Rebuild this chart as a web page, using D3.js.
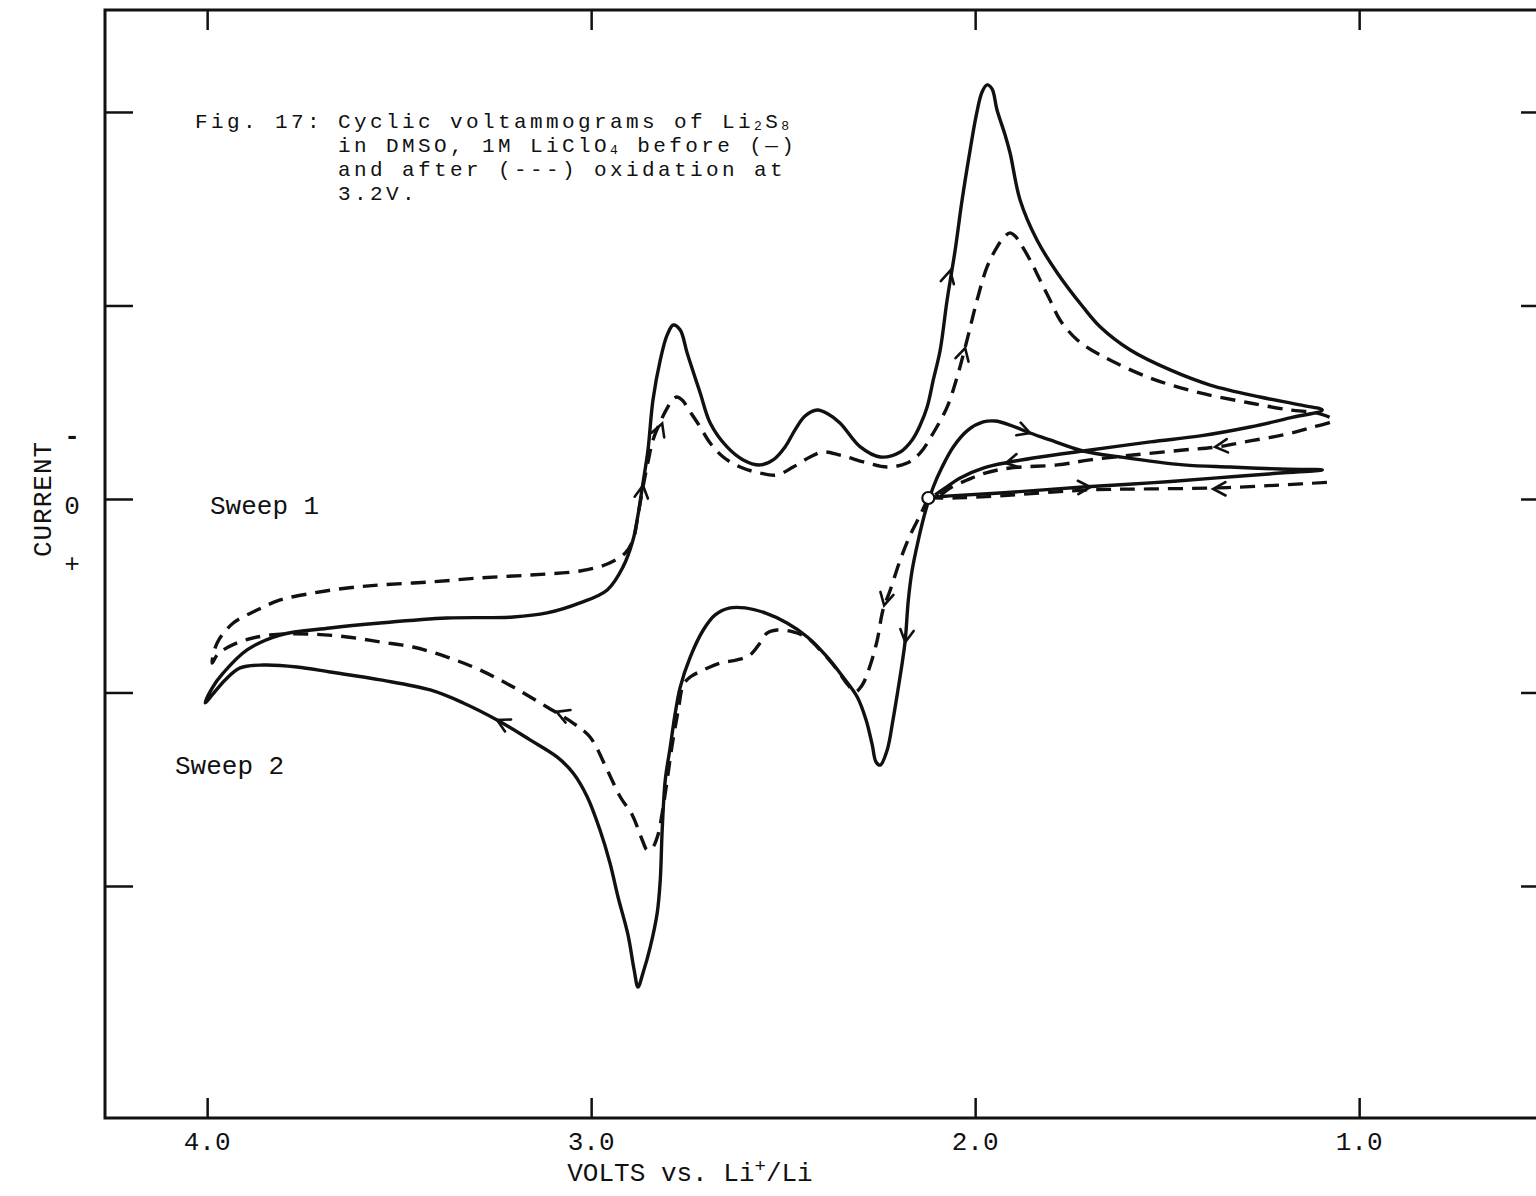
<!DOCTYPE html>
<html>
<head>
<meta charset="utf-8">
<script src="https://cdn.jsdelivr.net/npm/d3@7"></script>
<style>
  html, body { margin: 0; padding: 0; background: #fff; }
  svg { display: block; }
  text { font-family: "Liberation Mono", "DejaVu Sans Mono", monospace; fill: #111; }
</style>
</head>
<body>
<svg id="chart" width="1536" height="1196"></svg>
<script>
// ---------------- DATA (volts vs Li+/Li, current in tick units; up = "-" anodic) ----------------
const xTickValues = [4.0, 3.0, 2.0, 1.0];
const xTickLabels = ["4.0", "3.0", "2.0", "1.0"];
const yTickValues = [2, 1, 0, -1, -2];
const ySignLabels = [["-", 0.33], ["0", -0.03], ["+", -0.33]];

// Before oxidation (solid)
const solidCurve = [
  [2.112,0.010],[2.065,0.016],[1.935,0.031],[1.719,0.062],[1.544,0.083],[1.370,0.109],[1.206,0.134],[1.096,0.150],
  [1.206,0.155],[1.336,0.165],[1.458,0.176],[1.622,0.217],[1.719,0.248],[1.805,0.305],[1.857,0.341],[1.909,0.382],
  [1.948,0.403],[1.979,0.398],[2.018,0.357],[2.057,0.269],[2.086,0.165],[2.109,0.062],[2.130,-0.067],[2.148,-0.212],
  [2.164,-0.367],[2.174,-0.522],[2.182,-0.729],[2.190,-0.848],[2.201,-0.987],[2.214,-1.142],[2.229,-1.297],[2.247,-1.375],
  [2.258,-1.359],[2.268,-1.271],[2.284,-1.142],[2.307,-1.023],[2.344,-0.920],[2.385,-0.817],[2.437,-0.713],[2.490,-0.641],
  [2.547,-0.589],[2.599,-0.563],[2.638,-0.563],[2.677,-0.599],[2.708,-0.677],[2.742,-0.817],[2.768,-0.972],[2.781,-1.106],
  [2.794,-1.282],[2.807,-1.452],[2.815,-1.711],[2.820,-1.969],[2.828,-2.140],[2.846,-2.315],[2.865,-2.450],[2.878,-2.522],
  [2.888,-2.434],[2.904,-2.253],[2.930,-2.057],[2.951,-1.881],[2.977,-1.711],[3.010,-1.540],[3.047,-1.416],[3.089,-1.333],
  [3.159,-1.245],[3.245,-1.142],[3.333,-1.054],[3.419,-0.987],[3.549,-0.935],[3.680,-0.894],[3.766,-0.868],[3.854,-0.858],
  [3.914,-0.873],[3.953,-0.935],[3.987,-1.013],[4.005,-1.054],
  [3.987,-0.977],[3.958,-0.899],[3.896,-0.780],[3.810,-0.703],[3.680,-0.667],[3.549,-0.641],[3.375,-0.615],[3.203,-0.610],
  [3.115,-0.589],[3.029,-0.537],[2.958,-0.470],[2.917,-0.351],[2.891,-0.212],[2.878,-0.083],[2.865,0.083],[2.852,0.253],
  [2.839,0.512],[2.820,0.718],[2.802,0.848],[2.786,0.899],[2.768,0.873],[2.750,0.755],[2.716,0.548],[2.690,0.393],
  [2.646,0.269],[2.604,0.202],[2.560,0.176],[2.526,0.202],[2.495,0.269],[2.469,0.357],[2.443,0.429],[2.411,0.460],
  [2.383,0.439],[2.352,0.393],[2.299,0.269],[2.247,0.217],[2.195,0.243],[2.164,0.305],[2.143,0.382],[2.125,0.475],
  [2.109,0.615],[2.091,0.770],[2.073,1.028],[2.052,1.287],[2.034,1.545],[2.013,1.804],[1.997,1.984],[1.982,2.103],
  [1.969,2.140],[1.956,2.119],[1.943,2.010],[1.922,1.881],[1.909,1.788],[1.883,1.545],[1.839,1.338],[1.786,1.168],
  [1.719,0.992],[1.674,0.889],[1.596,0.770],[1.492,0.667],[1.388,0.589],[1.258,0.527],[1.154,0.486],[1.096,0.460],
  [1.180,0.419],[1.284,0.372],[1.414,0.326],[1.544,0.295],[1.719,0.248],[1.831,0.217],[1.909,0.191],[1.979,0.160],
  [2.039,0.109],[2.078,0.057],[2.104,0.021]
];

// After oxidation at 3.2 V (dashed)
const dashedCurve = [
  [2.122,0.005],[2.143,-0.083],[2.169,-0.186],[2.195,-0.315],[2.221,-0.470],[2.240,-0.574],[2.255,-0.729],[2.273,-0.858],
  [2.294,-0.961],[2.313,-0.997],[2.331,-0.961],[2.365,-0.868],[2.404,-0.780],[2.437,-0.718],[2.474,-0.687],[2.516,-0.677],
  [2.542,-0.693],[2.560,-0.744],[2.586,-0.806],[2.620,-0.832],[2.664,-0.848],[2.708,-0.884],[2.742,-0.920],[2.760,-0.961],
  [2.773,-1.090],[2.789,-1.271],[2.802,-1.452],[2.815,-1.623],[2.826,-1.736],[2.841,-1.804],[2.854,-1.814],[2.867,-1.762],
  [2.893,-1.633],[2.924,-1.540],[2.958,-1.401],[3.003,-1.230],[3.047,-1.158],[3.115,-1.075],[3.203,-0.972],[3.289,-0.884],
  [3.375,-0.817],[3.464,-0.765],[3.549,-0.739],[3.635,-0.713],[3.732,-0.698],[3.836,-0.703],[3.901,-0.729],[3.945,-0.765],
  [3.974,-0.806],[3.987,-0.848],
  [3.974,-0.744],[3.932,-0.641],[3.870,-0.574],[3.810,-0.522],[3.724,-0.486],[3.635,-0.460],[3.549,-0.444],[3.419,-0.429],
  [3.289,-0.408],[3.159,-0.393],[3.029,-0.372],[2.958,-0.336],[2.911,-0.279],[2.891,-0.212],[2.878,-0.083],[2.865,0.062],
  [2.852,0.191],[2.839,0.305],[2.820,0.398],[2.802,0.470],[2.786,0.517],[2.776,0.527],[2.763,0.512],[2.742,0.450],
  [2.716,0.372],[2.690,0.289],[2.656,0.217],[2.612,0.165],[2.560,0.134],[2.516,0.124],[2.474,0.165],[2.430,0.217],
  [2.396,0.243],[2.352,0.227],[2.281,0.186],[2.229,0.165],[2.177,0.186],[2.143,0.238],[2.109,0.341],[2.073,0.475],
  [2.047,0.630],[2.021,0.822],[1.995,1.028],[1.969,1.199],[1.943,1.302],[1.922,1.359],[1.909,1.375],[1.896,1.359],
  [1.883,1.323],[1.857,1.235],[1.831,1.132],[1.805,1.028],[1.779,0.925],[1.734,0.822],[1.674,0.744],[1.544,0.625],
  [1.414,0.548],[1.284,0.496],[1.180,0.460],[1.109,0.444],[1.068,0.408],
  [1.128,0.367],[1.198,0.331],[1.284,0.300],[1.370,0.269],[1.458,0.253],[1.589,0.227],[1.701,0.202],[1.786,0.176],
  [1.909,0.160],[1.974,0.134],[2.021,0.098],[2.065,0.057],[2.091,0.021],[2.117,0.005]
];
const dashedLow = [
  [2.122,0.005],[2.047,0.005],[1.935,0.016],[1.701,0.047],[1.544,0.052],[1.370,0.057],[1.206,0.072],[1.068,0.088]
];

// Sweep direction arrows: [V, I, V toward, I toward]
const arrowMarks = [
  [2.065,1.18, 2.052,1.287],
  [2.865,0.07, 2.852,0.253],
  [2.815,0.39, 2.800,0.47],
  [2.026,0.78, 2.010,0.90],
  [1.857,0.341, 1.805,0.305],
  [1.920,0.185, 1.980,0.160],
  [1.375,0.269, 1.458,0.253],
  [1.700,0.062, 1.620,0.068],
  [1.380,0.052, 1.460,0.050],
  [2.182,-0.74, 2.190,-0.85],
  [2.237,-0.55, 2.250,-0.66],
  [3.245,-1.142, 3.333,-1.054],
  [3.090,-1.100, 3.180,-1.030]
];
const restPoint = [2.122, 0.005];

const captionLabel = "Fig. 17:";
// caption pieces: [text, kind]  kind: "n" normal, "sub" subscript, "br" new line
const captionPieces = [
  ["Cyclic voltammograms of Li", "n"], ["2", "sub"], ["S", "n"], ["8", "sub"],
  ["in DMSO, 1M LiClO", "br"], ["4", "sub"], [" before (\u2014)", "n"],
  ["and after (---) oxidation at", "br"],
  ["3.2V.", "br"]
];

// ---------------- LAYOUT ----------------
const svg = d3.select("#chart");
const L = 105, R = 1545, T = 10, B = 1118;
const x = d3.scaleLinear().domain([4.266, 0.516]).range([L, R]);
const y = d3.scaleLinear().domain([2.527, -3.199]).range([T, B]);
const ink = "#111";

// frame
svg.append("rect").attr("x", L).attr("y", T).attr("width", R - L).attr("height", B - T)
  .attr("fill", "none").attr("stroke", ink).attr("stroke-width", 3);

function styleAxis(g) {
  g.select(".domain").remove();
  g.selectAll(".tick line").attr("stroke", ink).attr("stroke-width", 2.5);
  g.selectAll(".tick text").remove();
}
svg.append("g").attr("transform", `translate(0,${B})`)
  .call(d3.axisTop(x).tickValues(xTickValues).tickSize(20).tickFormat("")).call(styleAxis);
svg.append("g").attr("transform", `translate(0,${T})`)
  .call(d3.axisBottom(x).tickValues(xTickValues).tickSize(20).tickFormat("")).call(styleAxis);
svg.append("g").attr("transform", `translate(${L},0)`)
  .call(d3.axisRight(y).tickValues(yTickValues).tickSize(28).tickFormat("")).call(styleAxis);
svg.append("g").attr("transform", `translate(${R},0)`)
  .call(d3.axisLeft(y).tickValues(yTickValues).tickSize(24).tickFormat("")).call(styleAxis);

// x tick labels
svg.append("g").selectAll("text").data(xTickValues).join("text")
  .attr("x", d => x(d)).attr("y", B + 32).attr("text-anchor", "middle")
  .attr("font-size", 26).text((d, i) => xTickLabels[i]);

// x-axis title
const xt = svg.append("text").attr("x", 690).attr("y", B + 63).attr("text-anchor", "middle").attr("font-size", 26);
xt.append("tspan").text("VOLTS vs. Li");
xt.append("tspan").attr("dy", -9).attr("font-size", 19).text("+");
xt.append("tspan").attr("dy", 9).text("/Li");

// y labels
svg.append("text").attr("transform", `translate(51,${y(0)}) rotate(-90)`)
  .attr("text-anchor", "middle").attr("font-size", 26).attr("letter-spacing", 1).text("CURRENT");
svg.append("g").selectAll("text").data(ySignLabels).join("text")
  .attr("x", 72).attr("y", d => y(d[1]) + 9).attr("text-anchor", "middle")
  .attr("font-size", 26).attr("font-weight", d => d[0] === "-" ? "bold" : null).text(d => d[0]);

// sweep labels
svg.append("text").attr("x", 210).attr("y", y(-0.03) + 9).attr("font-size", 26).text("Sweep 1");
svg.append("text").attr("x", 175).attr("y", y(-1.375) + 9).attr("font-size", 26).text("Sweep 2");

// title block (one tspan per piece)
const tx = 338, lh = 24, ty0 = 128, fs = 21, ls = 3.4, subShift = 2;
svg.append("text").attr("x", 195).attr("y", ty0).attr("font-size", fs).attr("letter-spacing", ls).text(captionLabel);
const cap = svg.append("text").attr("x", tx).attr("y", ty0).attr("font-size", fs).attr("letter-spacing", ls);
let shift = 0;
captionPieces.forEach(([txt, kind]) => {
  const ts = cap.append("tspan").text(txt);
  if (kind === "sub") {
    ts.attr("dy", subShift - shift).attr("font-size", 13);
    shift = subShift;
  } else if (kind === "br") {
    ts.attr("x", tx).attr("dy", lh - shift);
    shift = 0;
  } else {
    if (shift) ts.attr("dy", -shift);
    shift = 0;
  }
});

// curves
const line = d3.line().x(d => x(d[0])).y(d => y(d[1])).curve(d3.curveCatmullRom.alpha(0.5));
svg.append("path").datum(solidCurve).attr("d", line)
  .attr("fill", "none").attr("stroke", ink).attr("stroke-width", 3.4).attr("stroke-linejoin", "round");
svg.append("path").datum(dashedCurve).attr("d", line)
  .attr("fill", "none").attr("stroke", ink).attr("stroke-width", 3.4).attr("stroke-dasharray", "15,9");
svg.append("path").datum(dashedLow).attr("d", line)
  .attr("fill", "none").attr("stroke", ink).attr("stroke-width", 3.2).attr("stroke-dasharray", "15,9");

// arrows
svg.append("g").selectAll("path").data(arrowMarks).join("path")
  .attr("d", d => {
    const px = x(d[0]), py = y(d[1]);
    const a = Math.atan2(y(d[3]) - py, x(d[2]) - px);
    const len = 14, w = 0.5;
    const p1 = [px - len * Math.cos(a - w), py - len * Math.sin(a - w)];
    const p2 = [px - len * Math.cos(a + w), py - len * Math.sin(a + w)];
    return `M${p1[0]},${p1[1]}L${px},${py}L${p2[0]},${p2[1]}`;
  })
  .attr("fill", "none").attr("stroke", ink).attr("stroke-width", 2.6).attr("stroke-linecap", "round");

// rest potential marker
svg.append("circle").attr("cx", x(restPoint[0])).attr("cy", y(restPoint[1])).attr("r", 6)
  .attr("fill", "#fff").attr("stroke", ink).attr("stroke-width", 2.2);
</script>
</body>
</html>
